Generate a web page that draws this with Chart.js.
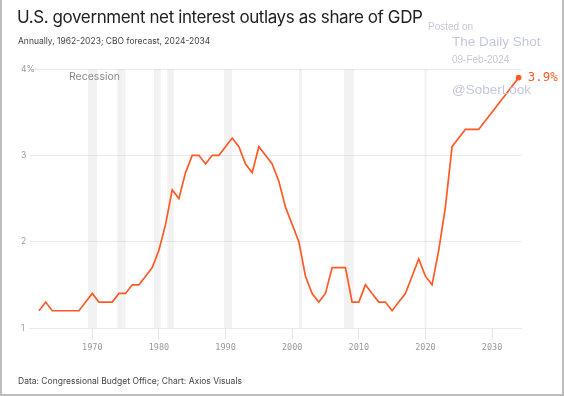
<!DOCTYPE html>
<html>
<head>
<meta charset="utf-8">
<script src="https://cdn.jsdelivr.net/npm/chart.js@4"></script>
<style>
    html, body { margin: 0; padding: 0; background: #fff; }
    #page { position: relative; width: 564px; height: 396px; overflow: hidden; font-family: Inter, "Noto Sans", sans-serif; }
    #frame { position: absolute; left: 0; top: 0; width: 564px; height: 396px; box-sizing: border-box;
        border: 2px solid #bdbdbd; border-top: none; pointer-events: none; }
    #wrap { position: absolute; left: 0; top: 0; width: 564px; height: 396px; }
    .txt { position: absolute; white-space: nowrap; }
    #title { left: 17px; top: 7px; font-size: 17px; color: #222; letter-spacing: -0.4px; }
    #subtitle { left: 18px; top: 36px; font-size: 8.5px; color: #444; }
    #footer { left: 18px; top: 376px; font-size: 8.5px; color: #444; }
    .wm { color: #c4c7de; font-family: "Liberation Sans", Arial, sans-serif; }
</style>
</head>
<body>
<div id="page">
    <div id="wrap"><canvas id="chart"></canvas></div>
    <div id="title" class="txt">U.S. government net interest outlays as share of GDP</div>
    <div id="subtitle" class="txt">Annually, 1962-2023; CBO forecast, 2024-2034</div>
    <div id="footer" class="txt">Data: Congressional Budget Office; Chart: Axios Visuals</div>
    <div class="txt wm" style="left:428px;top:21px;font-size:10px;">Posted on</div>
    <div class="txt wm" style="left:452px;top:34px;font-size:13.5px;">The Daily Shot</div>
    <div class="txt wm" style="left:452px;top:54px;font-size:10px;">09-Feb-2024</div>
    <div class="txt wm" style="left:452px;top:82px;font-size:13.5px;">@SoberLook</div>
    <div id="frame"></div>
</div>
<script>
    const years = [
        1962, 1963, 1964, 1965, 1966, 1967, 1968, 1969, 1970, 1971,
        1972, 1973, 1974, 1975, 1976, 1977, 1978, 1979, 1980, 1981,
        1982, 1983, 1984, 1985, 1986, 1987, 1988, 1989, 1990, 1991,
        1992, 1993, 1994, 1995, 1996, 1997, 1998, 1999, 2000, 2001,
        2002, 2003, 2004, 2005, 2006, 2007, 2008, 2009, 2010, 2011,
        2012, 2013, 2014, 2015, 2016, 2017, 2018, 2019, 2020, 2021,
        2022, 2023, 2024, 2025, 2026, 2027, 2028, 2029, 2030, 2031,
        2032, 2033, 2034,
    ];
    const interestShare = [
        1.2, 1.3, 1.2, 1.2, 1.2, 1.2, 1.2, 1.3, 1.4, 1.3,
        1.3, 1.3, 1.4, 1.4, 1.5, 1.5, 1.6, 1.7, 1.9, 2.2,
        2.6, 2.5, 2.8, 3.0, 3.0, 2.9, 3.0, 3.0, 3.1, 3.2,
        3.1, 2.9, 2.8, 3.1, 3.0, 2.9, 2.7, 2.4, 2.2, 2.0,
        1.6, 1.4, 1.3, 1.4, 1.7, 1.7, 1.7, 1.3, 1.3, 1.5,
        1.4, 1.3, 1.3, 1.2, 1.3, 1.4, 1.6, 1.8, 1.6, 1.5,
        1.9, 2.4, 3.1, 3.2, 3.3, 3.3, 3.3, 3.4, 3.5, 3.6,
        3.7, 3.8, 3.9,
    ];
    // recession periods as fractional years [start, end]
    const recessions = [
        [1969.35, 1970.75], [1973.75, 1975.0], [1979.25, 1980.25], [1981.25, 1982.25],
        [1989.75, 1991.0], [2001.0, 2001.5], [2007.75, 2009.25], [2019.85, 2020.2],
    ];
    const xTicks = [1970, 1980, 1990, 2000, 2010, 2020, 2030];
    const yTicks = [1, 2, 3, 4];

    const lineColor = '#ff5a26';
    const lastIdx = interestShare.length - 1;

    const recessionPlugin = {
        id: 'recessions',
        beforeDatasetsDraw(chart) {
            const { ctx, chartArea, scales } = chart;
            ctx.save();
            ctx.fillStyle = 'rgba(0, 0, 0, 0.05)';
            recessions.forEach(([a, b]) => {
                const x0 = scales.x.getPixelForValue(a);
                const x1 = scales.x.getPixelForValue(b);
                ctx.fillRect(x0, chartArea.top, x1 - x0, chartArea.bottom - chartArea.top);
            });
            ctx.fillStyle = '#8a8a8a';
            ctx.font = '10.5px Inter, "Noto Sans", sans-serif';
            ctx.textBaseline = 'middle';
            ctx.textAlign = 'left';
            ctx.fillText('Recession', chartArea.left + 40, chartArea.top + 8);
            ctx.restore();
        },
        afterDatasetsDraw(chart) {
            const { ctx } = chart;
            const pt = chart.getDatasetMeta(0).data[lastIdx];
            ctx.save();
            ctx.fillStyle = lineColor;
            ctx.font = '12.5px "DejaVu Sans Mono", monospace';
            ctx.textBaseline = 'middle';
            ctx.textAlign = 'left';
            ctx.fillText(interestShare[lastIdx].toFixed(1) + '%', pt.x + 9, pt.y + 0.5);
            ctx.restore();
        },
    };

    new Chart(document.getElementById('chart'), {
        type: 'line',
        data: {
            datasets: [
                {
                    data: years.map((yr, i) => ({ x: yr, y: interestShare[i] })),
                    borderColor: lineColor,
                    borderWidth: 1.7,
                    tension: 0,
                    pointRadius: years.map((yr, i) => (i === lastIdx ? 2.8 : 0)),
                    pointBackgroundColor: lineColor,
                    pointBorderWidth: 0,
                },
            ],
        },
        options: {
            responsive: true,
            maintainAspectRatio: false,
            animation: false,
            layout: { padding: { left: 29, top: 69, right: 42, bottom: 42 } },
            scales: {
                x: {
                    type: 'linear',
                    min: 1960.5,
                    max: 2034.5,
                    afterFit: (s) => { s.height = 26; },
                    afterBuildTicks: (s) => { s.ticks = xTicks.map((v) => ({ value: v })); },
                    grid: { drawOnChartArea: false, drawTicks: true, tickLength: 11, color: '#e6e6e6' },
                    border: { display: false },
                    ticks: {
                        padding: 4,
                        color: '#9a9a9a',
                        font: { family: '"DejaVu Sans Mono", monospace', size: 8.5 },
                        callback: (v) => String(v),
                    },
                },
                y: {
                    min: 1,
                    max: 4,
                    afterFit: (s) => { s.width = 0; },
                    afterBuildTicks: (s) => { s.ticks = yTicks.map((v) => ({ value: v })); },
                    grid: { color: '#ebebeb', drawTicks: false },
                    border: { display: false },
                    ticks: {
                        mirror: true,
                        padding: -8,
                        color: '#9a9a9a',
                        font: { family: 'Inter, "Noto Sans", sans-serif', size: 8.5 },
                        callback: (v) => (v === 4 ? v + '%' : String(v)),
                    },
                },
            },
            plugins: {
                legend: { display: false },
                tooltip: { enabled: false },
            },
        },
        plugins: [recessionPlugin],
    });
</script>
</body>
</html>
